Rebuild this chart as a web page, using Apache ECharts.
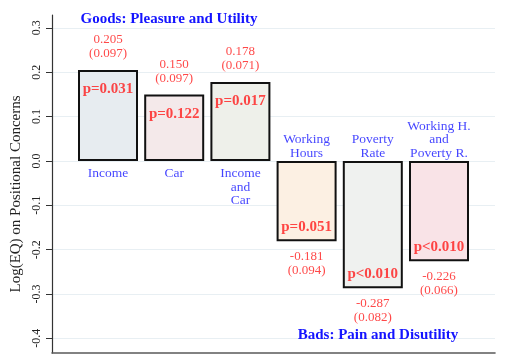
<!DOCTYPE html>
<html><head><meta charset="utf-8">
<script src="https://cdn.jsdelivr.net/npm/echarts@6/dist/echarts.min.js"></script>
<style>html,body{margin:0;padding:0;background:#fff}#c{width:510px;height:356px}</style>
</head><body><div id="c"></div>
<script>
const categories = ['Income', 'Car', 'Income\nand\nCar', 'Working\nHours', 'Poverty\nRate', 'Working H.\nand\nPoverty R.'];
const estimates = [0.205, 0.150, 0.178, -0.181, -0.287, -0.226];
const stdErrors = ['0.097', '0.097', '0.071', '0.094', '0.082', '0.066'];
const pLabels = ['p=0.031', 'p=0.122', 'p=0.017', 'p=0.051', 'p<0.010', 'p<0.010'];
const yTicks = [-0.4, -0.3, -0.2, -0.1, 0, 0.1, 0.2, 0.3];
const groupTitles = ['Goods: Pleasure and Utility', 'Bads: Pain and Disutility'];
const yAxisTitle = 'Log(EQ) on Positional Concerns';

const fills = ['#e7ecf0', '#f4e9ea', '#eef0ea', '#fcf0e3', '#eff1ef', '#f9e3e7'];
const SERIF = '"Liberation Serif", "Times New Roman", serif';
const BLUE = '#1414ff', RED = '#ff1a1a';

const chart = echarts.init(document.getElementById('c'), null, {renderer: 'canvas'});
const pts = estimates.map((v, i) => [i, v]);

const option = {
  animation: false,
  grid: {left: 52, right: 15, top: 15, bottom: 3, containLabel: false},
  xAxis: {
    type: 'value', min: -0.846, max: 5.846,
    axisLine: {show: true, onZero: false, lineStyle: {color: '#5a5a5a', width: 1.6}},
    axisTick: {show: false}, axisLabel: {show: false}, splitLine: {show: false}
  },
  yAxis: {
    type: 'value', min: -0.433, max: 0.329,
    name: yAxisTitle, nameLocation: 'middle', nameGap: 25, nameRotate: 90,
    nameTextStyle: {fontFamily: SERIF, fontSize: 15, color: '#222', padding: [0, 20, 0, 0]},
    axisLine: {show: true, onZero: false, lineStyle: {color: '#333', width: 1.2}},
    axisTick: {show: true, length: 6, customValues: yTicks, lineStyle: {color: '#333'}},
    axisLabel: {
      customValues: yTicks, rotate: 90, margin: 9,
      fontFamily: SERIF, fontSize: 12, color: '#222',
      formatter: v => v.toFixed(1)
    },
    splitLine: {show: true, lineStyle: {color: '#e8eff3', width: 1}}
  },
  series: [
    {
      type: 'bar', barWidth: 60, silent: true,
      data: pts.map((p, i) => ({value: p, itemStyle: {color: fills[i]}})),
      itemStyle: {borderColor: '#111', borderWidth: 2}
    },
    {
      type: 'scatter', symbolSize: 0, silent: true,
      itemStyle: {color: 'transparent'},
      data: pts.map((p, i) => ({
        value: p,
        label: {position: p[1] > 0 ? 'top' : 'bottom', distance: p[1] > 0 ? 9 : 8}
      })),
      label: {
        show: true, fontFamily: SERIF, fontSize: 13, lineHeight: 14, color: RED, align: 'center',
        formatter: p => estimates[p.dataIndex].toFixed(3) + '\n(' + stdErrors[p.dataIndex] + ')'
      }
    },
    {
      type: 'scatter', symbolSize: 0, silent: true,
      itemStyle: {color: 'transparent'},
      data: pts.map((p, i) => ({
        value: p,
        label: {position: p[1] > 0 ? 'bottom' : 'top', distance: p[1] > 0 ? 12 : 7}
      })),
      label: {
        show: true, fontFamily: SERIF, fontSize: 15, fontWeight: 'bold', color: RED,
        formatter: p => pLabels[p.dataIndex]
      }
    },
    {
      type: 'scatter', symbolSize: 0, silent: true,
      itemStyle: {color: 'transparent'},
      data: pts.map((p, i) => ({
        value: [p[0], 0],
        label: {position: p[1] > 0 ? 'bottom' : 'top', distance: p[1] > 0 ? 6 : 1}
      })),
      label: {
        show: true, fontFamily: SERIF, fontSize: 13.5, lineHeight: 13.5, color: BLUE, align: 'center',
        formatter: p => categories[p.dataIndex]
      }
    }
  ],
  graphic: [
    {type: 'text', x: 169, y: 19, z: 100, silent: true,
     style: {text: groupTitles[0], fontFamily: SERIF, fontSize: 15, fontWeight: 'bold', fill: BLUE, align: 'center', verticalAlign: 'middle'}},
    {type: 'text', x: 378, y: 335, z: 100, silent: true,
     style: {text: groupTitles[1], fontFamily: SERIF, fontSize: 15, fontWeight: 'bold', fill: BLUE, align: 'center', verticalAlign: 'middle'}}
  ]
};
chart.setOption(option);
</script></body></html>
